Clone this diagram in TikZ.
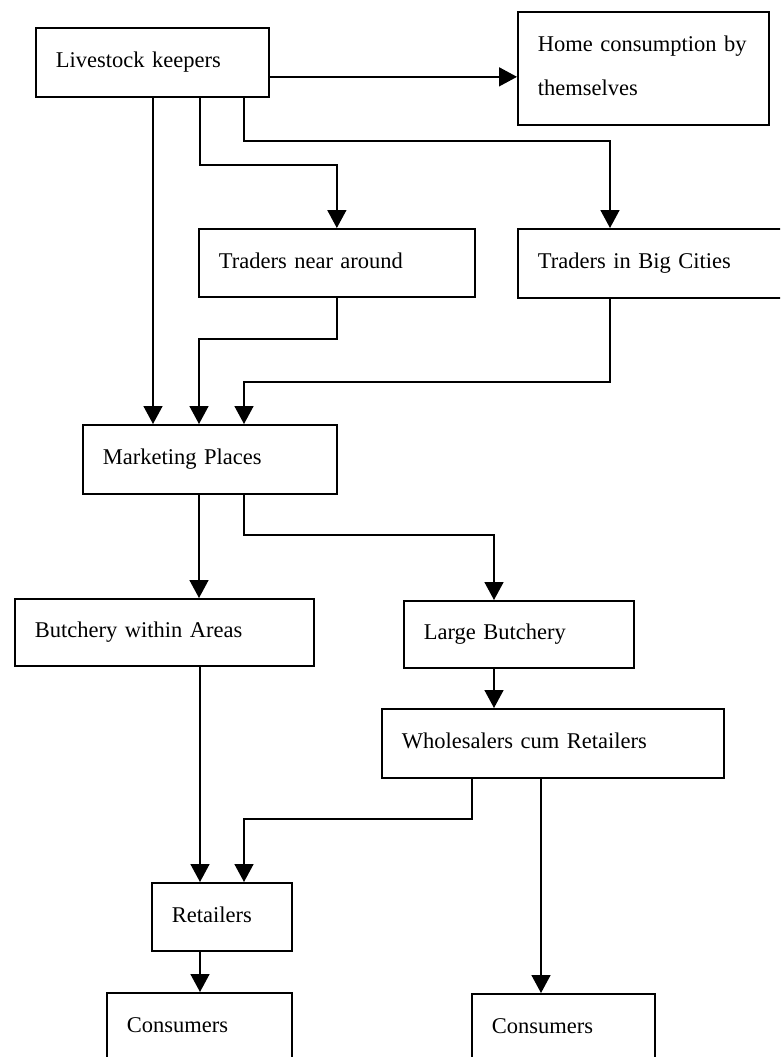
\documentclass[tikz,border=0pt]{standalone}
\usepackage{fontspec}
\setmainfont{Liberation Serif}
\usetikzlibrary{arrows.meta}
\begin{document}
\begin{tikzpicture}[x=1pt,y=-1pt,
  box/.style={draw, line width=1.7pt, anchor=north west, inner xsep=20pt, inner ysep=0pt,
    align=left, text height=16pt, text depth=5pt, font=\fontsize{22.5}{27}\selectfont},
  link/.style={line width=1.6pt, -{Triangle[width=19pt,length=18pt]}}]
% page frame
\path[use as bounding box] (0,0) rectangle (780,1057);
\fill[white] (0,0) rectangle (780,1057);
\clip (0,0) rectangle (780,1057);

% boxes
\node[box, text width=193pt, minimum height=69pt] (live) at (35,27) {Livestock keepers};
\node[box, text width=211pt, minimum height=113pt, text depth=50pt,
      font=\fontsize{22.5}{44}\selectfont] (home) at (517,11) {\mbox{Home consumption by}\\themselves};
\node[box, text width=236pt, minimum height=68pt] (tna) at (198,228) {Traders near around};
\node[box, text width=230pt, minimum height=69pt] (tbc) at (517,228) {Traders in Big Cities};
\node[box, text width=214pt, minimum height=69pt] (mkt) at (82,424) {Marketing Places};
\node[box, text width=259pt, minimum height=67pt] (bwa) at (14,598) {Butchery within Areas};
\node[box, text width=190pt, minimum height=67pt] (lb) at (403,600) {Large Butchery};
\node[box, text width=302pt, minimum height=69pt] (whr) at (381,708) {Wholesalers cum Retailers};
\node[box, text width=100pt, minimum height=68pt] (ret) at (151,882) {Retailers};
\node[box, text width=145pt, minimum height=69pt] (conl) at (106,992) {Consumers};
\node[box, text width=143pt, minimum height=69pt] (conr) at (471,993) {Consumers};

% livestock keepers outflows
\coordinate (a1) at ([yshift=-14.5pt]live.east);
\draw[link] (a1) -- (a1 -| home.west);
\coordinate (p1) at ([xshift=118pt]live.south west);
\draw[link] (p1) -- (p1 |- mkt.north);
\coordinate (p2) at ([xshift=165pt]live.south west);
\draw[link] (p2) -- ++(0,67) -| (tna.north);
\coordinate (p3) at ([xshift=209pt]live.south west);
\coordinate (q3) at ([xshift=93pt]tbc.north west);
\draw[link] (p3) -- ++(0,43) -| (q3);

% traders into marketing places
\coordinate (m1) at ([xshift=117pt]mkt.north west);
\coordinate (m2) at ([xshift=162pt]mkt.north west);
\draw[link] (tna.south) -- ++(0,41) -| (m1);
\coordinate (q4) at ([xshift=93pt]tbc.south west);
\draw[link] (q4) -- ++(0,83) -| (m2);

% marketing places to butcheries
\coordinate (m3) at ([xshift=117pt]mkt.south west);
\draw[link] (m3) -- (m3 |- bwa.north);
\coordinate (m4) at ([xshift=162pt]mkt.south west);
\coordinate (b1) at ([xshift=91pt]lb.north west);
\draw[link] (m4) -- ++(0,40) -| (b1);
\coordinate (b2) at ([xshift=91pt]lb.south west);
\draw[link] (b2) -- (b2 |- whr.north);

% down to retailers and consumers
\coordinate (b3) at ([xshift=186pt]bwa.south west);
\draw[link] (b3) -- (b3 |- ret.north);
\coordinate (w1) at ([xshift=91pt]whr.south west);
\coordinate (r1) at ([xshift=93pt]ret.north west);
\draw[link] (w1) -- ++(0,40) -| (r1);
\coordinate (w2) at ([xshift=160pt]whr.south west);
\draw[link] (w2) -- (w2 |- conr.north);
\coordinate (r2) at ([xshift=49pt]ret.south west);
\draw[link] (r2) -- (r2 |- conl.north);
\end{tikzpicture}
\end{document}
